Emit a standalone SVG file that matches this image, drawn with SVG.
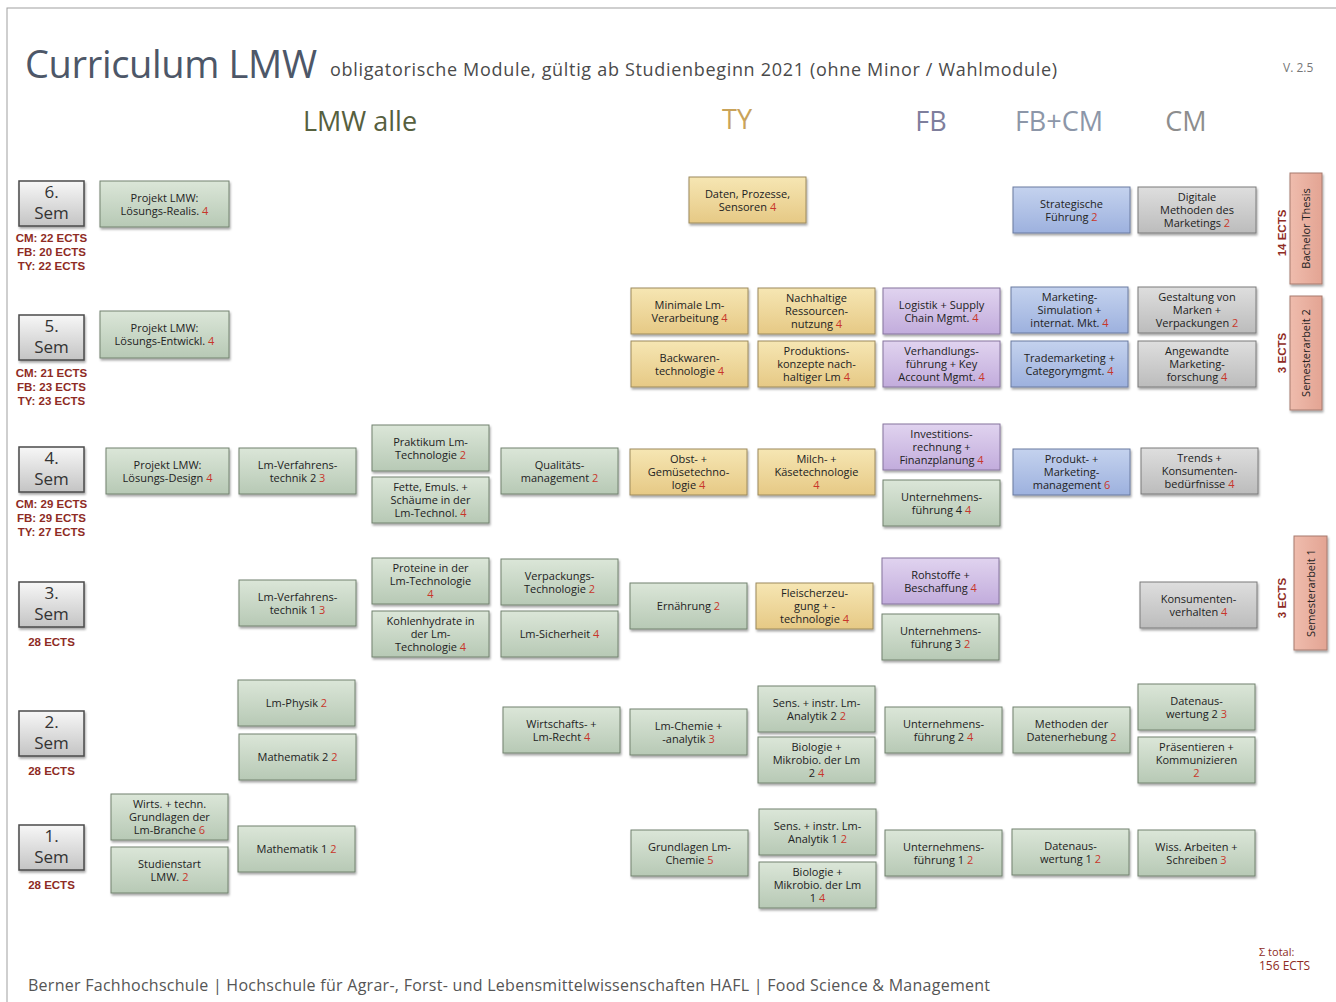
<svg xmlns="http://www.w3.org/2000/svg" width="1336" height="1002" viewBox="0 0 1336 1002">
<defs>
<linearGradient id="gG" x1="0" y1="0" x2="0" y2="1"><stop offset="0" stop-color="#dbe6d8"/><stop offset="1" stop-color="#b7c9b5"/></linearGradient>
<linearGradient id="gY" x1="0" y1="0" x2="0" y2="1"><stop offset="0" stop-color="#f6e6b3"/><stop offset="1" stop-color="#e6c985"/></linearGradient>
<linearGradient id="gP" x1="0" y1="0" x2="0" y2="1"><stop offset="0" stop-color="#e0d3ef"/><stop offset="1" stop-color="#c2acdc"/></linearGradient>
<linearGradient id="gB" x1="0" y1="0" x2="0" y2="1"><stop offset="0" stop-color="#c4d2ee"/><stop offset="1" stop-color="#9db1de"/></linearGradient>
<linearGradient id="gC" x1="0" y1="0" x2="0" y2="1"><stop offset="0" stop-color="#dedede"/><stop offset="1" stop-color="#bcbcbc"/></linearGradient>
<linearGradient id="gK" x1="0" y1="0" x2="1" y2="0"><stop offset="0" stop-color="#efbcad"/><stop offset="1" stop-color="#e3a493"/></linearGradient>
<linearGradient id="gS" x1="0" y1="0" x2="0" y2="1"><stop offset="0" stop-color="#f7f7f7"/><stop offset="1" stop-color="#c4c4c4"/></linearGradient>
<filter id="sh" x="-10%" y="-10%" width="125%" height="135%"><feDropShadow dx="1" dy="2" stdDeviation="1.2" flood-color="#000" flood-opacity="0.35"/></filter>
</defs>
<style>
text{font-family:"Open Sans","Noto Sans","DejaVu Sans",sans-serif}
.box{stroke-width:1;filter:url(#sh)}
.g{fill:url(#gG);stroke:#72826f}
.y{fill:url(#gY);stroke:#9c8a5c}
.p{fill:url(#gP);stroke:#86759e}
.b{fill:url(#gB);stroke:#6a7aa0}
.c{fill:url(#gC);stroke:#7a7a7a}
.k{fill:url(#gK);stroke:#a77b6e}
.s{fill:url(#gS);stroke:#4a4a4a;stroke-width:1.5;filter:url(#sh)}
.t{font-size:11px;fill:#222;text-anchor:middle}
.n{fill:#c8362a}
.st{font-size:17px;fill:#333;text-anchor:middle}
.ec{font-family:"Liberation Sans",Arial,sans-serif;font-size:11.5px;font-weight:bold;fill:#8e2b24;text-anchor:middle}
.hd{font-size:27px;text-anchor:middle}
</style>
<rect x="0" y="0" width="1336" height="1002" fill="#ffffff"/>
<rect x="7" y="8" width="1345" height="1005" fill="none" stroke="#a0a0a0" stroke-width="1"/>

<g id="header">
<text x="25" y="78" font-size="38" fill="#4d5768" textLength="292">Curriculum LMW</text>
<text x="330" y="76" font-size="18" fill="#4a4a4a" textLength="727">obligatorische Module, gültig ab Studienbeginn 2021 (ohne Minor / Wahlmodule)</text>
<text x="1283" y="72" font-size="12" fill="#777">V. 2.5</text>
<text class="hd" x="360" y="131" fill="#56603e">LMW alle</text>
<text class="hd" x="737" y="129" fill="#c9a35a">TY</text>
<text class="hd" x="931" y="131" fill="#7e7e9c">FB</text>
<text class="hd" x="1059" y="131" fill="#8c96a8">FB+CM</text>
<text class="hd" x="1186" y="131" fill="#8d8d8d">CM</text>
</g>

<g id="connectors"/>

<!-- Semester labels -->
<g id="sem6"><rect class="s" x="19" y="181" width="65" height="45"/><text class="st" x="51.5" y="198">6.</text><text class="st" x="51.5" y="219">Sem</text>
<text class="ec" x="51.5" y="242">CM: 22 ECTS</text><text class="ec" x="51.5" y="256">FB: 20 ECTS</text><text class="ec" x="51.5" y="270">TY: 22 ECTS</text></g>
<g id="sem5"><rect class="s" x="19" y="315" width="65" height="45"/><text class="st" x="51.5" y="332">5.</text><text class="st" x="51.5" y="353">Sem</text>
<text class="ec" x="51.5" y="377">CM: 21 ECTS</text><text class="ec" x="51.5" y="391">FB: 23 ECTS</text><text class="ec" x="51.5" y="405">TY: 23 ECTS</text></g>
<g id="sem4"><rect class="s" x="19" y="447" width="65" height="45"/><text class="st" x="51.5" y="464">4.</text><text class="st" x="51.5" y="485">Sem</text>
<text class="ec" x="51.5" y="508">CM: 29 ECTS</text><text class="ec" x="51.5" y="522">FB: 29 ECTS</text><text class="ec" x="51.5" y="536">TY: 27 ECTS</text></g>
<g id="sem3"><rect class="s" x="19" y="582" width="65" height="45"/><text class="st" x="51.5" y="599">3.</text><text class="st" x="51.5" y="620">Sem</text>
<text class="ec" x="51.5" y="646">28 ECTS</text></g>
<g id="sem2"><rect class="s" x="19" y="711" width="65" height="45"/><text class="st" x="51.5" y="728">2.</text><text class="st" x="51.5" y="749">Sem</text>
<text class="ec" x="51.5" y="775">28 ECTS</text></g>
<g id="sem1"><rect class="s" x="19" y="825" width="65" height="45"/><text class="st" x="51.5" y="842">1.</text><text class="st" x="51.5" y="863">Sem</text>
<text class="ec" x="51.5" y="889">28 ECTS</text></g>

<!-- Green modules (LMW alle) -->
<g id="m6a"><rect class="box g" x="100" y="181" width="129" height="46"/><text class="t" x="164.5" y="201.5">Projekt LMW:<tspan x="164.5" dy="13">Lösungs-Realis. <tspan class="n">4</tspan></tspan></text></g>
<g id="m5a"><rect class="box g" x="100" y="311" width="129" height="47"/><text class="t" x="164.5" y="332">Projekt LMW:<tspan x="164.5" dy="13">Lösungs-Entwickl. <tspan class="n">4</tspan></tspan></text></g>
<g id="m4a"><rect class="box g" x="106" y="448" width="123" height="46"/><text class="t" x="167.5" y="468.5">Projekt LMW:<tspan x="167.5" dy="13">Lösungs-Design <tspan class="n">4</tspan></tspan></text></g>
<g id="m4b"><rect class="box g" x="239" y="448" width="117" height="46"/><text class="t" x="297.5" y="468.5">Lm-Verfahrens-<tspan x="297.5" dy="13">technik 2  <tspan class="n">3</tspan></tspan></text></g>
<g id="m4c"><rect class="box g" x="372" y="425" width="117" height="46"/><text class="t" x="430.5" y="445.5">Praktikum Lm-<tspan x="430.5" dy="13">Technologie <tspan class="n">2</tspan></tspan></text></g>
<g id="m4d"><rect class="box g" x="372" y="477" width="117" height="46"/><text class="t" x="430.5" y="491">Fette, Emuls. +<tspan x="430.5" dy="13">Schäume in der</tspan><tspan x="430.5" dy="13">Lm-Technol. <tspan class="n">4</tspan></tspan></text></g>
<g id="m4e"><rect class="box g" x="501" y="448" width="117" height="46"/><text class="t" x="559.5" y="468.5">Qualitäts-<tspan x="559.5" dy="13">management <tspan class="n">2</tspan></tspan></text></g>
<g id="m4f"><rect class="box g" x="883" y="480" width="117" height="46"/><text class="t" x="941.5" y="500.5">Unternehmens-<tspan x="941.5" dy="13">führung 4 <tspan class="n">4</tspan></tspan></text></g>
<g id="m3a"><rect class="box g" x="239" y="580" width="117" height="46"/><text class="t" x="297.5" y="600.5">Lm-Verfahrens-<tspan x="297.5" dy="13">technik 1 <tspan class="n">3</tspan></tspan></text></g>
<g id="m3b"><rect class="box g" x="372" y="558" width="117" height="46"/><text class="t" x="430.5" y="572">Proteine in der<tspan x="430.5" dy="13">Lm-Technologie</tspan><tspan x="430.5" dy="13" class="n">4</tspan></text></g>
<g id="m3c"><rect class="box g" x="372" y="611" width="117" height="46"/><text class="t" x="430.5" y="625">Kohlenhydrate in<tspan x="430.5" dy="13">der Lm-</tspan><tspan x="430.5" dy="13">Technologie <tspan class="n">4</tspan></tspan></text></g>
<g id="m3d"><rect class="box g" x="501" y="559" width="117" height="46"/><text class="t" x="559.5" y="579.5">Verpackungs-<tspan x="559.5" dy="13">Technologie <tspan class="n">2</tspan></tspan></text></g>
<g id="m3e"><rect class="box g" x="501" y="611" width="117" height="46"/><text class="t" x="559.5" y="638">Lm-Sicherheit <tspan class="n">4</tspan></text></g>
<g id="m3f"><rect class="box g" x="630" y="583" width="117" height="46"/><text class="t" x="688.5" y="610">Ernährung <tspan class="n">2</tspan></text></g>
<g id="m3g"><rect class="box g" x="882" y="614" width="117" height="46"/><text class="t" x="940.5" y="634.5">Unternehmens-<tspan x="940.5" dy="13">führung 3 <tspan class="n">2</tspan></tspan></text></g>
<g id="m2a"><rect class="box g" x="238" y="680" width="117" height="46"/><text class="t" x="296.5" y="707">Lm-Physik <tspan class="n">2</tspan></text></g>
<g id="m2b"><rect class="box g" x="239" y="734" width="117" height="46"/><text class="t" x="297.5" y="761">Mathematik 2 <tspan class="n">2</tspan></text></g>
<g id="m2c"><rect class="box g" x="503" y="707" width="117" height="46"/><text class="t" x="561.5" y="727.5">Wirtschafts- +<tspan x="561.5" dy="13">Lm-Recht <tspan class="n">4</tspan></tspan></text></g>
<g id="m2d"><rect class="box g" x="630" y="709" width="117" height="46"/><text class="t" x="688.5" y="729.5">Lm-Chemie +<tspan x="688.5" dy="13">-analytik <tspan class="n">3</tspan></tspan></text></g>
<g id="m2e"><rect class="box g" x="758" y="686" width="117" height="46"/><text class="t" x="816.5" y="706.5">Sens. + instr. Lm-<tspan x="816.5" dy="13">Analytik 2 <tspan class="n">2</tspan></tspan></text></g>
<g id="m2f"><rect class="box g" x="758" y="737" width="117" height="46"/><text class="t" x="816.5" y="751">Biologie +<tspan x="816.5" dy="13">Mikrobio. der Lm</tspan><tspan x="816.5" dy="13">2 <tspan class="n">4</tspan></tspan></text></g>
<g id="m2g"><rect class="box g" x="885" y="707" width="117" height="46"/><text class="t" x="943.5" y="727.5">Unternehmens-<tspan x="943.5" dy="13">führung 2 <tspan class="n">4</tspan></tspan></text></g>
<g id="m2h"><rect class="box g" x="1013" y="707" width="117" height="46"/><text class="t" x="1071.5" y="727.5">Methoden der<tspan x="1071.5" dy="13">Datenerhebung <tspan class="n">2</tspan></tspan></text></g>
<g id="m2i"><rect class="box g" x="1138" y="684" width="117" height="46"/><text class="t" x="1196.5" y="704.5">Datenaus-<tspan x="1196.5" dy="13">wertung 2 <tspan class="n">3</tspan></tspan></text></g>
<g id="m2j"><rect class="box g" x="1138" y="737" width="117" height="46"/><text class="t" x="1196.5" y="751">Präsentieren +<tspan x="1196.5" dy="13">Kommunizieren</tspan><tspan x="1196.5" dy="13" class="n">2</tspan></text></g>
<g id="m1a"><rect class="box g" x="111" y="794" width="117" height="46"/><text class="t" x="169.5" y="808">Wirts. + techn.<tspan x="169.5" dy="13">Grundlagen der</tspan><tspan x="169.5" dy="13">Lm-Branche <tspan class="n">6</tspan></tspan></text></g>
<g id="m1b"><rect class="box g" x="111" y="847" width="117" height="46"/><text class="t" x="169.5" y="867.5">Studienstart<tspan x="169.5" dy="13">LMW. <tspan class="n">2</tspan></tspan></text></g>
<g id="m1c"><rect class="box g" x="238" y="826" width="117" height="46"/><text class="t" x="296.5" y="853">Mathematik 1 <tspan class="n">2</tspan></text></g>
<g id="m1d"><rect class="box g" x="631" y="830" width="117" height="46"/><text class="t" x="689.5" y="850.5">Grundlagen Lm-<tspan x="689.5" dy="13">Chemie <tspan class="n">5</tspan></tspan></text></g>
<g id="m1e"><rect class="box g" x="759" y="809" width="117" height="46"/><text class="t" x="817.5" y="829.5">Sens. + instr. Lm-<tspan x="817.5" dy="13">Analytik 1 <tspan class="n">2</tspan></tspan></text></g>
<g id="m1f"><rect class="box g" x="759" y="862" width="117" height="46"/><text class="t" x="817.5" y="876">Biologie +<tspan x="817.5" dy="13">Mikrobio. der Lm</tspan><tspan x="817.5" dy="13">1 <tspan class="n">4</tspan></tspan></text></g>
<g id="m1g"><rect class="box g" x="885" y="830" width="117" height="46"/><text class="t" x="943.5" y="850.5">Unternehmens-<tspan x="943.5" dy="13">führung 1 <tspan class="n">2</tspan></tspan></text></g>
<g id="m1h"><rect class="box g" x="1012" y="829" width="117" height="46"/><text class="t" x="1070.5" y="849.5">Datenaus-<tspan x="1070.5" dy="13">wertung 1 <tspan class="n">2</tspan></tspan></text></g>
<g id="m1i"><rect class="box g" x="1138" y="830" width="117" height="46"/><text class="t" x="1196.5" y="850.5">Wiss. Arbeiten +<tspan x="1196.5" dy="13">Schreiben <tspan class="n">3</tspan></tspan></text></g>

<!-- Yellow modules (TY) -->
<g id="y6"><rect class="box y" x="689" y="177" width="117" height="46"/><text class="t" x="747.5" y="197.5">Daten, Prozesse,<tspan x="747.5" dy="13">Sensoren <tspan class="n">4</tspan></tspan></text></g>
<g id="y5a"><rect class="box y" x="631" y="288" width="117" height="46"/><text class="t" x="689.5" y="308.5">Minimale Lm-<tspan x="689.5" dy="13">Verarbeitung <tspan class="n">4</tspan></tspan></text></g>
<g id="y5b"><rect class="box y" x="758" y="288" width="117" height="46"/><text class="t" x="816.5" y="302">Nachhaltige<tspan x="816.5" dy="13">Ressourcen-</tspan><tspan x="816.5" dy="13">nutzung <tspan class="n">4</tspan></tspan></text></g>
<g id="y5c"><rect class="box y" x="631" y="341" width="117" height="46"/><text class="t" x="689.5" y="361.5">Backwaren-<tspan x="689.5" dy="13">technologie <tspan class="n">4</tspan></tspan></text></g>
<g id="y5d"><rect class="box y" x="758" y="341" width="117" height="46"/><text class="t" x="816.5" y="355">Produktions-<tspan x="816.5" dy="13">konzepte nach-</tspan><tspan x="816.5" dy="13">haltiger Lm <tspan class="n">4</tspan></tspan></text></g>
<g id="y4a"><rect class="box y" x="630" y="449" width="117" height="46"/><text class="t" x="688.5" y="463">Obst- +<tspan x="688.5" dy="13">Gemüsetechno-</tspan><tspan x="688.5" dy="13">logie <tspan class="n">4</tspan></tspan></text></g>
<g id="y4b"><rect class="box y" x="758" y="449" width="117" height="46"/><text class="t" x="816.5" y="463">Milch- +<tspan x="816.5" dy="13">Käsetechnologie</tspan><tspan x="816.5" dy="13" class="n">4</tspan></text></g>
<g id="y3"><rect class="box y" x="756" y="583" width="117" height="46"/><text class="t" x="814.5" y="597">Fleischerzeu-<tspan x="814.5" dy="13">gung + -</tspan><tspan x="814.5" dy="13">technologie <tspan class="n">4</tspan></tspan></text></g>

<!-- Purple modules (FB) -->
<g id="p5a"><rect class="box p" x="883" y="288" width="117" height="46"/><text class="t" x="941.5" y="308.5">Logistik + Supply<tspan x="941.5" dy="13">Chain Mgmt. <tspan class="n">4</tspan></tspan></text></g>
<g id="p5b"><rect class="box p" x="883" y="341" width="117" height="46"/><text class="t" x="941.5" y="355">Verhandlungs-<tspan x="941.5" dy="13">führung + Key</tspan><tspan x="941.5" dy="13">Account Mgmt. <tspan class="n">4</tspan></tspan></text></g>
<g id="p4"><rect class="box p" x="883" y="424" width="117" height="46"/><text class="t" x="941.5" y="438">Investitions-<tspan x="941.5" dy="13">rechnung +</tspan><tspan x="941.5" dy="13">Finanzplanung <tspan class="n">4</tspan></tspan></text></g>
<g id="p3"><rect class="box p" x="882" y="558" width="117" height="46"/><text class="t" x="940.5" y="578.5">Rohstoffe +<tspan x="940.5" dy="13">Beschaffung <tspan class="n">4</tspan></tspan></text></g>

<!-- Blue modules (FB+CM) -->
<g id="b6"><rect class="box b" x="1013" y="187" width="117" height="46"/><text class="t" x="1071.5" y="207.5">Strategische<tspan x="1071.5" dy="13">Führung <tspan class="n">2</tspan></tspan></text></g>
<g id="b5a"><rect class="box b" x="1011" y="287" width="117" height="46"/><text class="t" x="1069.5" y="301">Marketing-<tspan x="1069.5" dy="13">Simulation +</tspan><tspan x="1069.5" dy="13">internat. Mkt. <tspan class="n">4</tspan></tspan></text></g>
<g id="b5b"><rect class="box b" x="1011" y="341" width="117" height="46"/><text class="t" x="1069.5" y="361.5">Trademarketing +<tspan x="1069.5" dy="13">Categorymgmt. <tspan class="n">4</tspan></tspan></text></g>
<g id="b4"><rect class="box b" x="1013" y="449" width="117" height="46"/><text class="t" x="1071.5" y="463">Produkt- +<tspan x="1071.5" dy="13">Marketing-</tspan><tspan x="1071.5" dy="13">management <tspan class="n">6</tspan></tspan></text></g>

<!-- Gray modules (CM) -->
<g id="c6"><rect class="box c" x="1138" y="187" width="118" height="46"/><text class="t" x="1197" y="201">Digitale<tspan x="1197" dy="13">Methoden des</tspan><tspan x="1197" dy="13">Marketings <tspan class="n">2</tspan></tspan></text></g>
<g id="c5a"><rect class="box c" x="1138" y="287" width="118" height="46"/><text class="t" x="1197" y="301">Gestaltung von<tspan x="1197" dy="13">Marken +</tspan><tspan x="1197" dy="13">Verpackungen <tspan class="n">2</tspan></tspan></text></g>
<g id="c5b"><rect class="box c" x="1138" y="341" width="118" height="46"/><text class="t" x="1197" y="355">Angewandte<tspan x="1197" dy="13">Marketing-</tspan><tspan x="1197" dy="13">forschung <tspan class="n">4</tspan></tspan></text></g>
<g id="c4"><rect class="box c" x="1141" y="448" width="117" height="46"/><text class="t" x="1199.5" y="462">Trends +<tspan x="1199.5" dy="13">Konsumenten-</tspan><tspan x="1199.5" dy="13">bedürfnisse <tspan class="n">4</tspan></tspan></text></g>
<g id="c3"><rect class="box c" x="1140" y="582" width="117" height="46"/><text class="t" x="1198.5" y="602.5">Konsumenten-<tspan x="1198.5" dy="13">verhalten <tspan class="n">4</tspan></tspan></text></g>

<!-- Pink vertical (thesis / semester work) -->
<g id="thesis"><rect class="box k" x="1290" y="173" width="32" height="111"/><text class="t" transform="translate(1310,228.5) rotate(-90)" x="0" y="0">Bachelor Thesis</text>
<text class="ec" transform="translate(1286,233) rotate(-90)" x="0" y="0">14 ECTS</text></g>
<g id="sa2"><rect class="box k" x="1290" y="296" width="32" height="114"/><text class="t" transform="translate(1310,353) rotate(-90)" x="0" y="0">Semesterarbeit 2</text>
<text class="ec" transform="translate(1286,353) rotate(-90)" x="0" y="0">3 ECTS</text></g>
<g id="sa1"><rect class="box k" x="1294" y="536" width="33" height="114"/><text class="t" transform="translate(1314.5,593) rotate(-90)" x="0" y="0">Semesterarbeit 1</text>
<text class="ec" transform="translate(1286,598) rotate(-90)" x="0" y="0">3 ECTS</text></g>

<g id="footer">
<text x="1259" y="956" font-family="Liberation Sans, Arial, sans-serif" font-size="11" fill="#8e2b24">Σ total:</text>
<text x="1259" y="970" font-family="Liberation Sans, Arial, sans-serif" font-size="12" fill="#8e2b24">156 ECTS</text>
<text x="28" y="991" font-size="16" fill="#555" textLength="962">Berner Fachhochschule  |  Hochschule für Agrar-, Forst- und Lebensmittelwissenschaften HAFL  |  Food Science &amp; Management</text>
</g>
</svg>
